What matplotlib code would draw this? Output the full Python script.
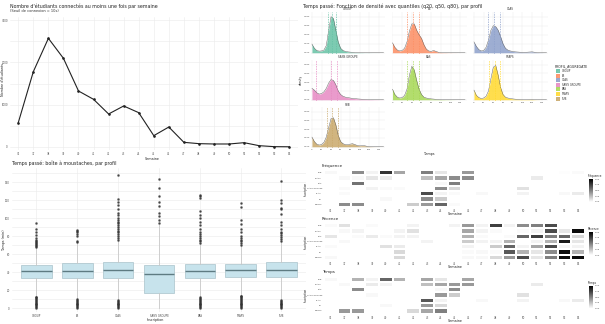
import matplotlib
matplotlib.use("Agg")
import matplotlib.pyplot as plt
import numpy as np
from matplotlib.colors import LinearSegmentedColormap

# ---------------- data ----------------
weeks = [36, 37, 38, 39, 40, 41, 42, 43, 44, 45, 46, 47, 48, 49, 50, 51, 52, 53, 54]
students = [575, 1780, 2567, 2094, 1323, 1126, 780, 969, 811, 268,
            472, 110, 79, 71, 71, 102, 31, 8, 5]

profiles = ["GROUP", "ES", "CLAS", "SANS GROUPE", "BAS", "STAPS", "SUB"]
profile_colors = ["#66c2a5", "#fc8d62", "#8da0cb", "#e78ac3",
                  "#a6d854", "#ffd92f", "#c9a86a"]

# box plot summary (minutes)
box_q1 = [33.9, 33.5, 33.9, 17.1, 33.9, 35.0, 34.6]
box_med = [40.6, 41.3, 42.1, 38.0, 41.3, 42.1, 42.1]
box_q3 = [47.3, 49.5, 51.0, 47.7, 48.8, 48.8, 50.7]
box_lo = [13.5, 10.5, 9.5, 0.0, 12.5, 14.5, 9.5]
box_hi = [67.5, 72.0, 75.0, 92.0, 71.5, 69.5, 74.0]
box_out_hi = [
    [68, 69, 70, 71, 72, 73, 74, 76, 78, 81, 84, 88, 95],
    [73, 75, 80, 82, 84, 86, 87],
    [76, 78, 80, 82, 84, 86, 88, 90, 92, 94, 96, 98, 100, 103, 106, 110, 114, 118, 121, 148],
    [94, 98, 102, 106, 113, 118, 125, 133, 143],
    [72, 74, 76, 78, 80, 82, 85, 88, 92, 96, 100, 103, 108, 122, 124, 126],
    [70, 72, 74, 76, 78, 80, 84, 88, 93, 98, 112, 117],
    [75, 77, 79, 81, 83, 85, 88, 92, 96, 105, 110, 111, 117, 120, 141],
]
box_out_lo = [
    [0, 1, 2, 3, 4, 5, 6, 7, 8, 9, 10, 11, 12, 12.8],
    [0, 1, 2, 3, 4, 5, 6, 7, 8, 9, 9.8],
    [0, 1, 2, 3, 4, 5, 6, 7, 8, 8.8],
    [],
    [0, 1, 2, 3, 4, 5, 6, 7, 8, 9, 10, 11, 11.8],
    [0, 1, 2, 3, 4, 5, 6, 7, 8, 9, 10, 11, 12, 13, 13.8],
    [0, 1, 2, 3, 4, 5, 6, 7, 8, 8.8],
]

# density estimates, minutes 0..150 every 5 min (values x 1e-3)
dens_x = list(range(0, 155, 5))
dens = {
    "GROUP": [9.6, 5, 2.5, 1.8, 2, 3, 8, 25, 40, 38, 25, 12, 5, 2.5, 1.5, 1, 0.7, 0.5,
              0.3, 0.3, 0.2, 0.2, 0.1, 0.1, 0.1, 0.05, 0.05, 0.05, 0, 0, 0],
    "ES": [11, 6, 3, 2, 2.5, 5, 12, 24, 32, 32, 25, 20, 16, 9, 4, 2, 1.5, 2.5,
           1.5, 0.5, 0.3, 0.2, 0.2, 0.1, 0.1, 0.05, 0.05, 0, 0, 0, 0],
    "CLAS": [12, 7, 3.5, 2, 2.5, 6, 14, 25, 30, 29, 25, 18, 10, 5, 3, 2, 1.5, 1,
             0.8, 0.6, 0.5, 0.5, 0.6, 0.8, 1, 0.6, 0.3, 0.2, 0.1, 0.05, 0],
    "SANS GROUPE": [13, 11, 8, 6.5, 7, 9, 13, 19, 23, 22, 17, 10, 6, 4, 3, 2.5, 2, 1.6,
                    1.3, 1, 0.8, 0.6, 0.5, 0.4, 0.3, 0.3, 0.2, 0.2, 0.1, 0.1, 0.05],
    "BAS": [12, 6, 3, 2, 2.5, 5, 12, 28, 38, 34, 22, 12, 6, 3, 2, 1.5, 1, 0.8,
            0.5, 0.4, 0.3, 0.3, 0.2, 0.2, 0.1, 0.1, 0.05, 0, 0, 0, 0],
    "STAPS": [11, 5, 2.5, 1.5, 2, 4, 10, 24, 37, 39, 28, 14, 6, 3, 2, 1.5, 1, 0.7,
              0.5, 0.4, 0.3, 0.3, 0.3, 0.4, 0.4, 0.2, 0.1, 0.05, 0, 0, 0],
    "SUB": [11, 6, 3, 2, 2.5, 5, 11, 22, 32, 33, 25, 13, 6, 3.5, 2.5, 2.5, 3, 3.5,
            2.5, 1.5, 1, 1.2, 1.2, 0.6, 0.3, 0.2, 0.1, 0.05, 0, 0, 0],
}
dens_q = {
    "GROUP": [33, 41, 51], "ES": [31, 42, 54], "CLAS": [30, 42, 54],
    "SANS GROUPE": [9, 40, 52], "BAS": [31, 42, 54], "STAPS": [32, 43, 54],
    "SUB": [32, 43, 54],
}

# heat maps: rows follow `profiles`, 19 weekly columns, scaled 0..1
freq = [
    [0, .45, .45, 0, 0, 0, .2, .4, .6, .02, 0, 0, 0, 0, 0, 0, 0, 0, 0],
    [0, 0, 0, 0, .03, 0, 0, .45, .2, 0, 0, 0, 0, 0, 0, 0, 0, 0, 0],
    [0, .02, 0, 0, 0, 0, 0, .7, .05, .02, 0, .03, 0, 0, .05, 0, 0, .03, .08],
    [0, .02, 0, .05, .02, .02, 0, 0, .45, .15, 0, 0, 0, 0, .12, 0, 0, 0, 0],
    [0, 0, .55, 0, 0, 0, 0, 0, .03, .5, 0, 0, 0, 0, 0, 0, 0, 0, 0],
    [0, .03, .03, .1, .08, 0, 0, .25, .35, .45, .45, 0, 0, 0, 0, .08, 0, 0, 0],
    [.03, 0, .45, .05, .8, .35, 0, .5, .1, 0, .4, 0, 0, 0, 0, 0, 0, .01, .02],
]
recence = [
    [.03, 0, 0, 0, 0, .15, 0, 0, 0, 0, .03, .03, .15, .4, .7, .1, .5, .95, .95],
    [0, 0, 0, 0, 0, .15, 0, 0, 0, 0, .02, .03, .02, .65, .3, .1, .45, .95, .3],
    [.02, 0, 0, 0, .12, .08, 0, 0, 0, 0, .05, 0, .2, .6, .05, .35, .7, .05, .05],
    [0, .03, 0, 0, 0, 0, 0, .05, 0, 0, .2, .05, .05, .3, 0, .05, .3, .9, .1],
    [.1, 0, .02, .08, .02, .05, .05, 0, 0, 0, .3, .02, 0, .02, .6, .75, .5, .6, .15],
    [0, .03, .05, 0, 0, .05, .12, 0, 0, 0, .35, .05, .02, 0, .02, .05, .7, .1, .95],
    [.02, .12, 0, .02, 0, 0, .05, 0, 0, .05, .4, .05, .75, .05, .45, .5, .7, .0, 0],
]
temps = [
    [0, .4, .4, 0, 0, 0, .15, .35, .5, 0, 0, 0, 0, 0, 0, 0, 0, 0, 0],
    [0, 0, 0, 0, .03, 0, 0, .4, .15, 0, 0, 0, 0, 0, 0, 0, 0, 0, 0],
    [0, 0, 0, 0, 0, 0, 0, .65, .05, 0, 0, .03, 0, 0, .05, 0, 0, .03, .08],
    [0, 0, 0, .03, 0, 0, 0, 0, .4, .2, 0, 0, 0, 0, .12, 0, 0, 0, 0],
    [0, 0, .45, 0, 0, 0, 0, 0, .03, .45, 0, 0, 0, 0, 0, 0, 0, 0, 0],
    [0, .03, 0, .08, .05, 0, 0, .25, .35, .4, .4, 0, 0, 0, 0, .08, 0, 0, 0],
    [.03, 0, .3, .05, .6, .3, 0, .35, .1, 0, .35, 0, 0, 0, 0, 0, 0, 0, 0],
]

# ---------------- layout helpers ----------------
W, H = 605, 324
fig = plt.figure(figsize=(W / 100, H / 100), dpi=100)
fig.patch.set_facecolor("white")

TITLE = 3.4
TICK = 1.9
LAB = 2.4
GRID = "#ebebeb"
TXT = "#4d4d4d"


def px_axes(x0, y0, x1, y1):
    return fig.add_axes([x0 / W, 1 - y1 / H, (x1 - x0) / W, (y1 - y0) / H])


def minimal(ax):
    for s in ax.spines.values():
        s.set_visible(False)
    ax.tick_params(length=0, labelsize=TICK, colors=TXT, pad=1.5)
    ax.set_facecolor("white")
    ax.set_axisbelow(True)


def ftext(x, y, s, **kw):
    fig.text(x / W, 1 - y / H, s, **kw)


# ---------------- weekly line chart ----------------
ax = px_axes(10, 17, 298, 150)
minimal(ax)
xi = np.arange(len(weeks))
ax.plot(xi, students, color="#222222", lw=0.8, marker="o", ms=0.9)
ax.set_xlim(-0.55, len(weeks) - 1 + 0.58)
ax.set_ylim(-71, 3071)
ax.set_xticks(xi)
ax.set_xticklabels([str(w) for w in weeks])
ax.set_yticks([0, 1000, 2000, 3000])
ax.set_yticks([500, 1500, 2500], minor=True)
ax.tick_params(which="minor", length=0)
ax.grid(True, which="both", color=GRID, lw=0.4)
ftext(10, 6, "Nombre d'étudiants connectés au moins une fois par semaine",
      fontsize=TITLE, color="#222222", va="center")
ftext(10, 11, "(Seuil de connexion = 10s)", fontsize=2.6, color="#333333", va="center")
ftext(152, 159, "Semaine", fontsize=LAB, ha="center", va="center", color="#222222")
ftext(3, 80, "Nombre d'étudiants", fontsize=LAB, rotation=90, ha="center",
      va="center", color="#222222")

# ---------------- box plots ----------------
ax = px_axes(12, 168, 306, 312)
minimal(ax)
stats = []
for i, p in enumerate(profiles):
    stats.append(dict(med=box_med[i], q1=box_q1[i], q3=box_q3[i],
                      whislo=box_lo[i], whishi=box_hi[i],
                      fliers=box_out_hi[i] + box_out_lo[i], label=p))
ax.bxp(stats, positions=range(len(profiles)), widths=0.75, patch_artist=True,
       showcaps=False,
       boxprops=dict(facecolor="#c7e3ec", edgecolor="#a9c3cb", lw=0.5),
       medianprops=dict(color="#5e7b82", lw=1.0),
       whiskerprops=dict(color="#c8c8c8", lw=0.6),
       flierprops=dict(marker="o", ms=0.9, mfc="#333333", mec="#333333", alpha=0.7))
ax.set_xlim(-0.6, 6.6)
ax.set_ylim(-4.4, 155.6)
ax.set_yticks(range(0, 141, 20))
ax.set_yticks(range(10, 151, 20), minor=True)
ax.tick_params(which="minor", length=0)
ax.set_xticklabels(profiles)
ax.grid(True, which="both", color=GRID, lw=0.4)
ftext(12, 163, "Temps passé: boîte à moustaches, par profil", fontsize=TITLE,
      color="#222222", va="center")
ftext(155, 320, "Inscription", fontsize=LAB, ha="center", va="center", color="#222222")
ftext(4, 240, "Temps (min)", fontsize=LAB, rotation=90, ha="center", va="center",
      color="#222222")

# ---------------- density facets ----------------
cols = [(311, 385), (391.5, 466.5), (473, 548)]
rows = [(12, 54), (60, 101), (107, 148)]
bottom_row = {0: 2, 1: 1, 2: 1}
for k, p in enumerate(profiles):
    r, c = divmod(k, 3)
    x0, x1 = cols[c]
    y0, y1 = rows[r]
    ax = px_axes(x0, y0, x1, y1)
    minimal(ax)
    ax.tick_params(labelsize=1.6, pad=1)
    yv = np.array(dens[p]) / 1000.0
    ax.fill_between(dens_x, yv, color=profile_colors[k], alpha=0.85, lw=0)
    ax.plot(dens_x, yv, color="#555555", lw=0.3)
    for q in dens_q[p]:
        ax.axvline(q, color=profile_colors[k], lw=0.5, ls=(0, (2, 1.5)))
    ax.set_xlim(-2, 153)
    ax.set_ylim(-0.0014, 0.0452)
    ax.set_xticks(range(0, 141, 20))
    ax.set_yticks([0, 0.01, 0.02, 0.03, 0.04])
    ax.grid(True, color=GRID, lw=0.35)
    if c == 0:
        ax.set_yticklabels(["0.000", "0.010", "0.020", "0.030", "0.040"])
    else:
        ax.set_yticklabels([])
    if bottom_row[c] == r:
        ax.set_xticklabels([str(v) for v in range(0, 141, 20)])
    else:
        ax.set_xticklabels([])
    ftext((x0 + x1) / 2, y0 - 2.5, p, fontsize=2.0, ha="center", va="center",
          color="#333333")
ftext(303, 6, "Temps passé: Fonction de densité avec quantiles (q20, q50, q80), par profil",
      fontsize=TITLE, color="#222222", va="center")
ftext(429, 154, "Temps", fontsize=LAB, ha="center", va="center", color="#222222")
ftext(300.5, 80, "density", fontsize=2.0, rotation=90, ha="center", va="center",
      color="#222222")
# legend
ftext(555, 66, "PROFIL_AGGREGATE", fontsize=2.3, va="center", color="#222222")
for k, p in enumerate(profiles):
    yk = 71 + k * 4.6
    lax = px_axes(556, yk - 2, 560, yk + 2)
    lax.set_axis_off()
    lax.add_patch(plt.Rectangle((0, 0), 1, 1, color=profile_colors[k], alpha=0.85))
    ftext(562, yk, p, fontsize=1.9, va="center", color="#333333")

# ---------------- heat maps ----------------
cmap = LinearSegmentedColormap.from_list("wb", ["#ffffff", "#000000"])
maps = [("Fréquence", freq, 170, 207), ("Récence", recence, 223, 260),
        ("Temps", temps, 276.5, 313.5)]
for name, mat, y0, y1 in maps:
    ax = px_axes(324, y0, 585, y1)
    minimal(ax)
    m = ax.pcolormesh(np.arange(len(weeks) + 1) - 0.5,
                      np.arange(len(profiles) + 1) - 0.5,
                      np.array(mat), cmap=cmap, vmin=0, vmax=1,
                      edgecolor="white", lw=0.25)
    ax.set_xlim(-0.5, len(weeks) - 0.5)
    ax.set_ylim(-0.5, len(profiles) - 0.5)
    ax.set_xticks(range(len(weeks)))
    ax.set_xticklabels([str(w) for w in weeks])
    ax.set_yticks(range(len(profiles)))
    ax.set_yticklabels(profiles, fontsize=1.5)
    ftext(322, y0 - 4, name, fontsize=2.9, va="center", color="#222222")
    ftext(455, y1 + 7, "Semaine", fontsize=LAB, ha="center", va="center", color="#222222")
    ftext(305.5, (y0 + y1) / 2, "Inscription", fontsize=2.0, rotation=90, ha="center",
          va="center", color="#222222")
    cax = px_axes(589, y0 + 9, 593, y0 + 32)
    cb = fig.colorbar(m, cax=cax, ticks=[0, 0.25, 0.5, 0.75, 1.0])
    cb.outline.set_visible(False)
    cb.ax.tick_params(length=0, labelsize=1.7, colors=TXT, pad=1)
    cb.ax.set_yticklabels(["0.00", "0.25", "0.50", "0.75", "1.00"])
    ftext(588, y0 + 6.5, name, fontsize=2.0, va="center", color="#222222")

fig.savefig("out.png", dpi=100)
